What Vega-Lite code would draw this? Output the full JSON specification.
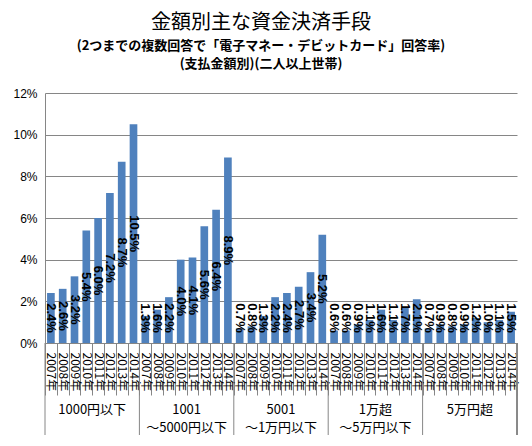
{
  "$schema": "https://vega.github.io/schema/vega-lite/v6.json",
  "description": "金額別主な資金決済手段 (電子マネー・デビットカード回答率)",
  "autosize": {"type": "none"},
  "width": 472,
  "height": 250,
  "padding": {"left": 45, "top": 93, "right": 15, "bottom": 103},
  "background": "white",
  "title": {
    "text": "金額別主な資金決済手段",
    "subtitle": ["(2つまでの複数回答で「電子マネー・デビットカード」回答率)", "(支払金額別)(二人以上世帯)"],
    "anchor": "middle",
    "dx": -20,
    "offset": 16,
    "font": "Noto Sans CJK JP",
    "fontSize": 20,
    "fontWeight": "normal",
    "color": "black",
    "subtitleFont": "Noto Sans CJK JP",
    "subtitleFontSize": 13,
    "subtitleFontWeight": "bold",
    "subtitleColor": "black",
    "subtitleLineHeight": 18,
    "subtitlePadding": 7
  },
  "datasets": {
    "rates": [
      {"key": "1|2007年", "v": 0.024}, {"key": "1|2008年", "v": 0.026}, {"key": "1|2009年", "v": 0.032}, {"key": "1|2010年", "v": 0.054},
      {"key": "1|2011年", "v": 0.060}, {"key": "1|2012年", "v": 0.072}, {"key": "1|2013年", "v": 0.087}, {"key": "1|2014年", "v": 0.105},
      {"key": "2|2007年", "v": 0.013}, {"key": "2|2008年", "v": 0.016}, {"key": "2|2009年", "v": 0.022}, {"key": "2|2010年", "v": 0.040},
      {"key": "2|2011年", "v": 0.041}, {"key": "2|2012年", "v": 0.056}, {"key": "2|2013年", "v": 0.064}, {"key": "2|2014年", "v": 0.089},
      {"key": "3|2007年", "v": 0.007}, {"key": "3|2008年", "v": 0.008}, {"key": "3|2009年", "v": 0.013}, {"key": "3|2010年", "v": 0.022},
      {"key": "3|2011年", "v": 0.024}, {"key": "3|2012年", "v": 0.027}, {"key": "3|2013年", "v": 0.034}, {"key": "3|2014年", "v": 0.052},
      {"key": "4|2007年", "v": 0.006}, {"key": "4|2008年", "v": 0.006}, {"key": "4|2009年", "v": 0.009}, {"key": "4|2010年", "v": 0.011},
      {"key": "4|2011年", "v": 0.016}, {"key": "4|2012年", "v": 0.011}, {"key": "4|2013年", "v": 0.017}, {"key": "4|2014年", "v": 0.021},
      {"key": "5|2007年", "v": 0.007}, {"key": "5|2008年", "v": 0.009}, {"key": "5|2009年", "v": 0.008}, {"key": "5|2010年", "v": 0.009},
      {"key": "5|2011年", "v": 0.012}, {"key": "5|2012年", "v": 0.010}, {"key": "5|2013年", "v": 0.011}, {"key": "5|2014年", "v": 0.015}
    ],
    "groups": [
      {"first": "1|2007年", "mid": "1|2011年", "label": "1000円以下"},
      {"first": "2|2007年", "mid": "2|2011年", "label": "1001\n～5000円以下"},
      {"first": "3|2007年", "mid": "3|2011年", "label": "5001\n～1万円以下"},
      {"first": "4|2007年", "mid": "4|2011年", "label": "1万超\n～5万円以下"},
      {"first": "5|2007年", "mid": "5|2011年", "label": "5万円超"}
    ]
  },
  "encoding": {
    "x": {
      "field": "key",
      "type": "nominal",
      "scale": {"paddingInner": 0, "paddingOuter": 0},
      "axis": {
        "title": null,
        "labelExpr": "split(datum.label, '|')[1]",
        "labelAngle": 90,
        "labelAlign": "left",
        "labelBaseline": "middle",
        "labelFont": "Noto Sans CJK JP",
        "labelFontSize": 12,
        "labelColor": "black",
        "labelOverlap": false,
        "labelBound": false,
        "labelPadding": -43,
        "tickBand": "extent",
        "tickSize": 52,
        "tickColor": "#868686",
        "domainColor": "#868686"
      }
    }
  },
  "layer": [
    {
      "data": {"name": "rates"},
      "mark": {"type": "bar", "color": "#4f81bd", "width": {"band": 0.65}},
      "encoding": {
        "y": {
          "field": "v",
          "type": "quantitative",
          "scale": {"domain": [0, 0.12]},
          "axis": {
            "title": null,
            "values": [0, 0.02, 0.04, 0.06, 0.08, 0.1, 0.12],
            "format": ".0%",
            "labelFont": "Liberation Sans",
            "labelFontSize": 12,
            "labelColor": "black",
            "labelPadding": 8,
            "ticks": false,
            "grid": true,
            "gridColor": "#868686",
            "domainColor": "#868686"
          }
        }
      }
    },
    {
      "data": {"name": "rates"},
      "transform": [{"calculate": "max(datum.v / 2, 0.012)", "as": "labelPos"}],
      "mark": {"type": "text", "angle": 90, "align": "center", "baseline": "middle", "font": "Liberation Sans", "fontSize": 13, "fontWeight": "bold", "color": "black"},
      "encoding": {
        "y": {"field": "labelPos", "type": "quantitative"},
        "text": {"field": "v", "type": "quantitative", "format": ".1%"}
      }
    },
    {
      "data": {"name": "groups"},
      "mark": {"type": "rule", "color": "#868686", "y2Offset": 92},
      "encoding": {
        "x": {"field": "first", "bandPosition": 0},
        "y": {"datum": 0},
        "y2": {"datum": 0}
      }
    },
    {
      "data": {"name": "groups"},
      "mark": {"type": "rule", "color": "#868686", "y2Offset": 92},
      "encoding": {
        "x": {"datum": "5|2014年", "bandPosition": 1},
        "y": {"datum": 0},
        "y2": {"datum": 0}
      }
    },
    {
      "data": {"name": "groups"},
      "mark": {"type": "text", "align": "center", "baseline": "top", "dy": 61, "lineBreak": "\n", "lineHeight": 18, "font": "Noto Sans CJK JP", "fontSize": 13, "color": "black"},
      "encoding": {
        "x": {"field": "mid", "bandPosition": 0},
        "y": {"datum": 0},
        "text": {"field": "label"}
      }
    }
  ],
  "config": {
    "view": {"stroke": null}
  }
}
